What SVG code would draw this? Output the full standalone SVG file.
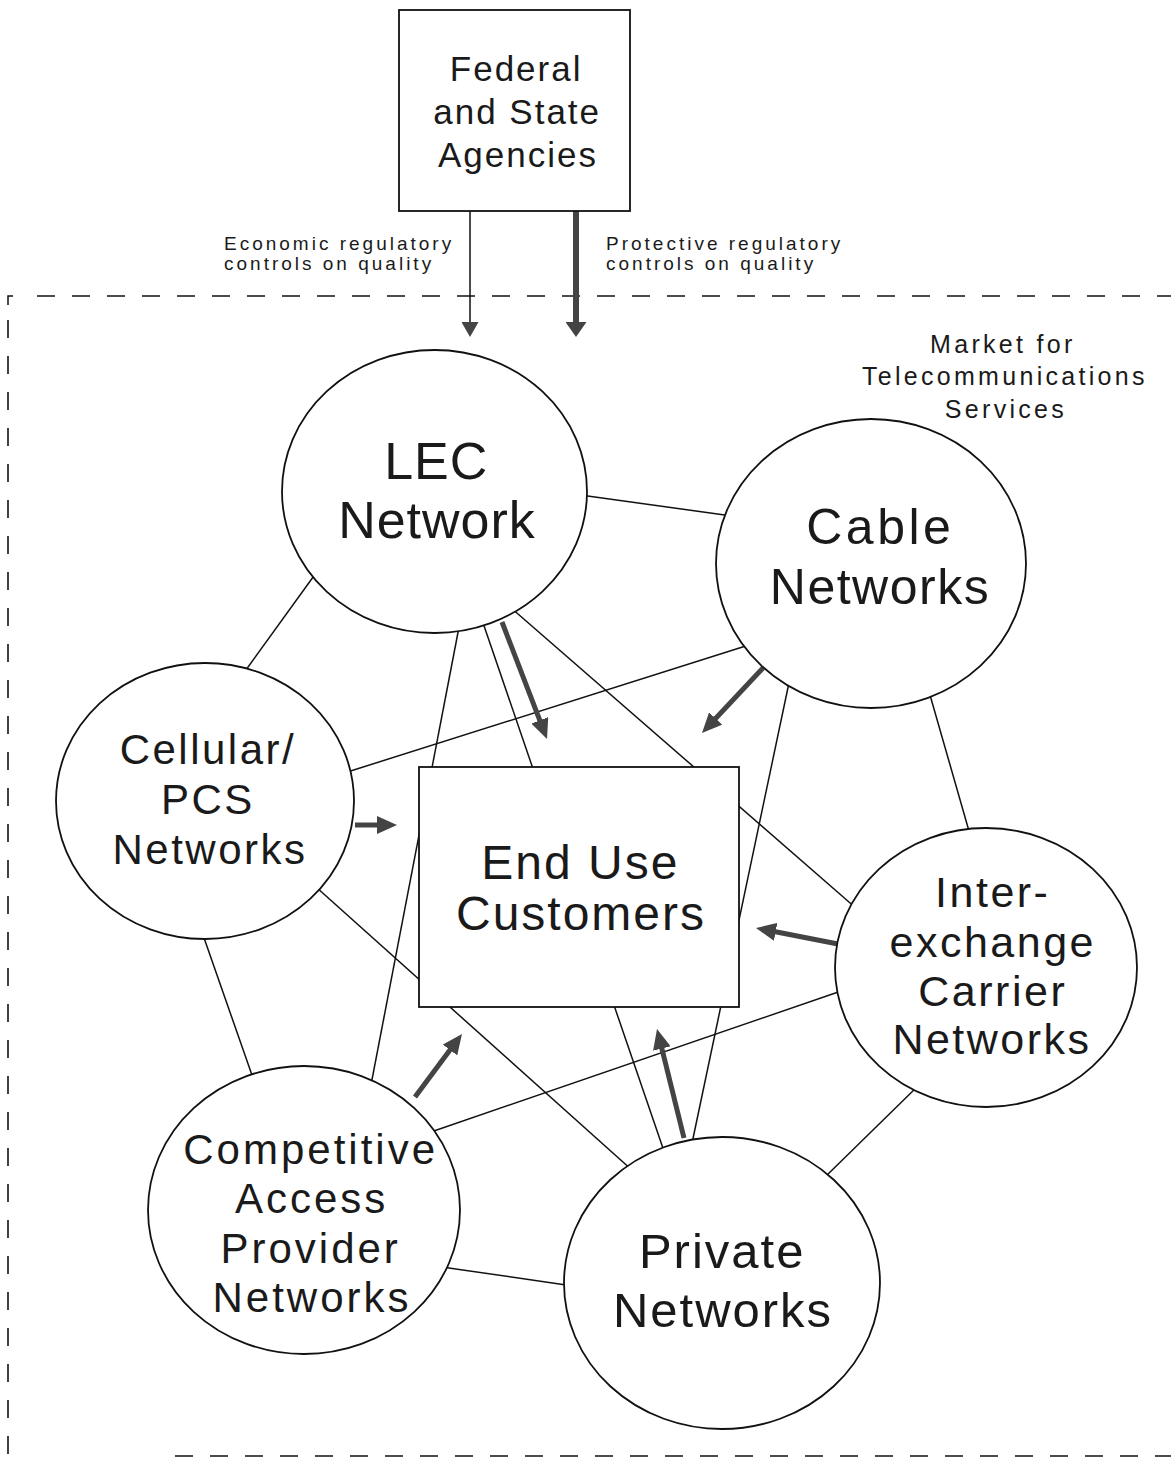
<svg xmlns="http://www.w3.org/2000/svg" width="1171" height="1459" viewBox="0 0 1171 1459">
<style>
  .t { font-family: "Liberation Sans", Arial, sans-serif; fill: #1a1a1a; text-anchor: middle; }
  .lbl { font-family: "Liberation Sans", Arial, sans-serif; fill: #1a1a1a; font-size: 19px; letter-spacing: 3px; }
  .node { fill: #fff; stroke: #111; stroke-width: 1.8; }
  .ln { stroke: #111; stroke-width: 1.5; fill: none; }
  .arr { stroke: #444; stroke-width: 5; fill: none; marker-end: url(#mBig); }
  .dash { stroke: #111; stroke-width: 1.6; fill: none; stroke-dasharray: 18 17; }
</style>
<defs>
  <marker id="mBig" markerUnits="userSpaceOnUse" markerWidth="20" markerHeight="18" refX="8" refY="9" orient="auto" viewBox="0 0 20 18">
    <path d="M0,0 L20,9 L0,18 z" fill="#444"/>
  </marker>
  <marker id="mThin" markerUnits="userSpaceOnUse" markerWidth="15" markerHeight="17" refX="2" refY="8.5" orient="auto" viewBox="0 0 15 17">
    <path d="M0,0 L15,8.5 L0,17 z" fill="#444"/>
  </marker>
  <marker id="mThick" markerUnits="userSpaceOnUse" markerWidth="15" markerHeight="21" refX="2" refY="10.5" orient="auto" viewBox="0 0 15 21">
    <path d="M0,0 L15,10.5 L0,21 z" fill="#444"/>
  </marker>
</defs>
<rect width="1171" height="1459" fill="#fff"/>

<g id="market-boundary">
  <path class="ln" d="M8 305 V296 H13"/>
  <path class="dash" d="M37 296 H1171"/>
  <path class="dash" d="M8 320 V1459" style="stroke-dasharray:18 18"/>
  <path class="dash" d="M175 1456 H1171"/>
  <text class="t" style="font-size:25px;letter-spacing:3.3px">
    <tspan x="1008" y="353">Market for</tspan>
    <tspan x="1010" y="385">Telecommunications</tspan>
    <tspan x="1006" y="418">Services</tspan>
  </text>
</g>

<g id="connectors">
  <line class="ln" x1="566" y1="493" x2="732" y2="516"/>
  <line class="ln" x1="316" y1="573" x2="243" y2="674"/>
  <line class="ln" x1="460" y1="622" x2="370" y2="1090"/>
  <line class="ln" x1="481" y1="617" x2="666" y2="1157"/>
  <line class="ln" x1="510" y1="607" x2="857" y2="909"/>
  <line class="ln" x1="752" y1="644" x2="341" y2="774"/>
  <line class="ln" x1="790" y1="678" x2="691" y2="1148"/>
  <line class="ln" x1="930" y1="695" x2="971" y2="838"/>
  <line class="ln" x1="203" y1="935" x2="253" y2="1078"/>
  <line class="ln" x1="316" y1="887" x2="633" y2="1171"/>
  <line class="ln" x1="847" y1="989" x2="428" y2="1133"/>
  <line class="ln" x1="920" y1="1084" x2="824" y2="1178"/>
  <line class="ln" x1="442" y1="1267" x2="573" y2="1286"/>

  <line class="arr" x1="502" y1="622" x2="542.7" y2="727.8"/>
  <line class="arr" x1="763" y1="668" x2="710.2" y2="724.3"/>
  <line class="arr" x1="355" y1="825" x2="385" y2="825"/>
  <line class="arr" x1="838" y1="944" x2="767.8" y2="930.3"/>
  <line class="arr" x1="415" y1="1097" x2="454.8" y2="1043.6"/>
  <line class="arr" x1="684" y1="1138" x2="659.9" y2="1040.7"/>

  <line x1="470" y1="211" x2="470" y2="324" stroke="#111" stroke-width="1.5" marker-end="url(#mThin)"/>
  <line x1="576" y1="211" x2="576" y2="324" stroke="#444" stroke-width="6" marker-end="url(#mThick)"/>
  <text class="lbl"><tspan x="224" y="250">Economic regulatory</tspan><tspan x="224" y="270">controls on quality</tspan></text>
  <text class="lbl"><tspan x="606" y="250">Protective regulatory</tspan><tspan x="606" y="270">controls on quality</tspan></text>
</g>

<g id="agencies">
  <rect class="node" x="399" y="10" width="231" height="201"/>
  <text class="t" style="font-size:35px;letter-spacing:2px">
    <tspan x="522" y="81">Federal</tspan>
    <tspan x="523" y="124">and State</tspan>
    <tspan x="518" y="167">Agencies</tspan>
  </text>
</g>

<g id="lec">
  <ellipse class="node" cx="434.5" cy="491.5" rx="152.5" ry="141.5"/>
  <text class="t" style="font-size:52px;letter-spacing:1px">
    <tspan x="444" y="479">LEC</tspan>
    <tspan x="437" y="538">Network</tspan>
  </text>
</g>

<g id="cable">
  <ellipse class="node" cx="871" cy="563.5" rx="155" ry="144.5"/>
  <text class="t" style="font-size:50px;letter-spacing:1.5px">
    <tspan x="888" y="544" style="letter-spacing:3.5px">Cable</tspan>
    <tspan x="880" y="604">Networks</tspan>
  </text>
</g>

<g id="cellular">
  <ellipse class="node" cx="205" cy="801" rx="149" ry="138"/>
  <text class="t" style="font-size:42px;letter-spacing:2.5px">
    <tspan x="215" y="764">Cellular/</tspan>
    <tspan x="215" y="814">PCS</tspan>
    <tspan x="210" y="864">Networks</tspan>
  </text>
</g>

<g id="end-use">
  <rect class="node" x="419" y="767" width="320" height="240"/>
  <text class="t" style="font-size:48px;letter-spacing:2px">
    <tspan x="588" y="879">End Use</tspan>
    <tspan x="581" y="930">Customers</tspan>
  </text>
</g>

<g id="interexchange">
  <ellipse class="node" cx="986" cy="967.5" rx="151" ry="139.5"/>
  <text class="t" style="font-size:43px;letter-spacing:2.5px">
    <tspan x="1000" y="907">Inter-</tspan>
    <tspan x="1000" y="957">exchange</tspan>
    <tspan x="1000" y="1006">Carrier</tspan>
    <tspan x="992" y="1054">Networks</tspan>
  </text>
</g>

<g id="cap">
  <ellipse class="node" cx="304" cy="1210" rx="156" ry="144"/>
  <text class="t" style="font-size:42px;letter-spacing:3px">
    <tspan x="318" y="1164">Competitive</tspan>
    <tspan x="319" y="1213">Access</tspan>
    <tspan x="318" y="1263">Provider</tspan>
    <tspan x="312" y="1312">Networks</tspan>
  </text>
</g>

<g id="private">
  <ellipse class="node" cx="722" cy="1283" rx="158" ry="146"/>
  <text class="t" style="font-size:49px;letter-spacing:2px">
    <tspan x="730" y="1268">Private</tspan>
    <tspan x="723" y="1327">Networks</tspan>
  </text>
</g>
</svg>
